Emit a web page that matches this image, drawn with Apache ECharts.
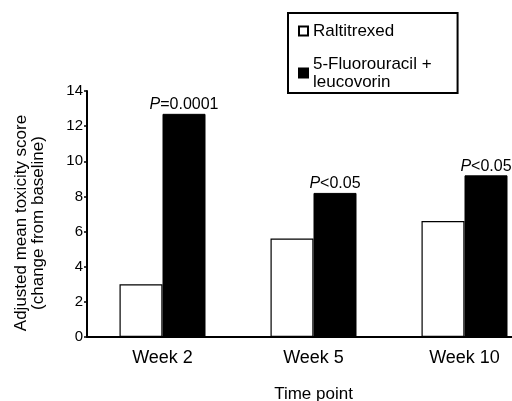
<!DOCTYPE html>
<html><head><meta charset="utf-8">
<script src="https://cdn.jsdelivr.net/npm/echarts@6/dist/echarts.min.js"></script>
<style>html,body{margin:0;padding:0;background:#fff}#c{width:512px;height:401px}</style>
</head><body><div id="c"></div>
<script>
const categories = ['Week 2', 'Week 5', 'Week 10'];
const raltitrexed = [3.0, 5.6, 6.6];
const fluorouracil = [12.7, 8.2, 9.2];
const pLabels = ['=0.0001', '<0.05', '<0.05'];
const seriesNames = ['Raltitrexed', '5-Fluorouracil + leucovorin'];
const legendLabels = ['Raltitrexed', '5-Fluorouracil +\nleucovorin'];
const yMin = 0, yMax = 14, yStep = 2;
const FONT = 'Liberation Sans';

const chart = echarts.init(document.getElementById('c'), null, {renderer: 'canvas'});
chart.setOption({
  animation: false,
  backgroundColor: '#fff',
  textStyle: {fontFamily: FONT, color: '#000'},
  grid: {left: 87, top: 91, width: 453, height: 246, outerBoundsMode: 'none', containLabel: false},
  legend: {
    orient: 'vertical',
    left: 288, top: 13,
    padding: [9, 26, 2, 10],
    borderColor: '#000', borderWidth: 2,
    backgroundColor: '#fff',
    itemWidth: 9, itemHeight: 9, itemGap: 15,
    icon: 'rect',
    data: seriesNames,
    formatter: function (name) { return legendLabels[seriesNames.indexOf(name)]; },
    textStyle: {fontFamily: FONT, fontSize: 17, lineHeight: 18, color: '#000'}
  },
  xAxis: {
    type: 'category',
    data: categories,
    axisLine: {lineStyle: {color: '#000', width: 2}},
    axisTick: {show: false},
    axisLabel: {color: '#000', fontSize: 18, margin: 12, fontFamily: FONT},
    name: 'Time point', nameLocation: 'middle', nameGap: 49,
    nameTextStyle: {fontSize: 17, color: '#000', fontFamily: FONT}
  },
  yAxis: {
    type: 'value', min: yMin, max: yMax, interval: yStep,
    axisLine: {show: true, lineStyle: {color: '#000', width: 2}},
    axisTick: {show: true, length: 3, lineStyle: {color: '#000', width: 1.5}},
    splitLine: {show: false},
    axisLabel: {color: '#000', fontSize: 15, margin: 4, fontFamily: FONT},
    name: 'Adjusted mean toxicity score\n(change from baseline)',
    nameLocation: 'middle', nameGap: 40,
    nameTextStyle: {fontSize: 17, lineHeight: 17, color: '#000', fontFamily: FONT, padding: [0, 18, 0, 0]}
  },
  series: [
    {
      name: seriesNames[0], type: 'bar', data: raltitrexed,
      barWidth: 43, barGap: '0%',
      itemStyle: {color: '#fff', borderColor: '#000', borderWidth: 1.2}
    },
    {
      name: seriesNames[1], type: 'bar', data: fluorouracil,
      barWidth: 43, barGap: '0%',
      itemStyle: {color: '#000', borderColor: '#000', borderWidth: 1},
      label: {
        show: true, position: 'top', distance: 1,
        formatter: function (p) { return '{i|P}' + pLabels[p.dataIndex]; },
        fontSize: 16, color: '#000', fontFamily: FONT,
        rich: {i: {fontStyle: 'italic', fontSize: 16, color: '#000', fontFamily: FONT}}
      }
    }
  ]
});
</script></body></html>
